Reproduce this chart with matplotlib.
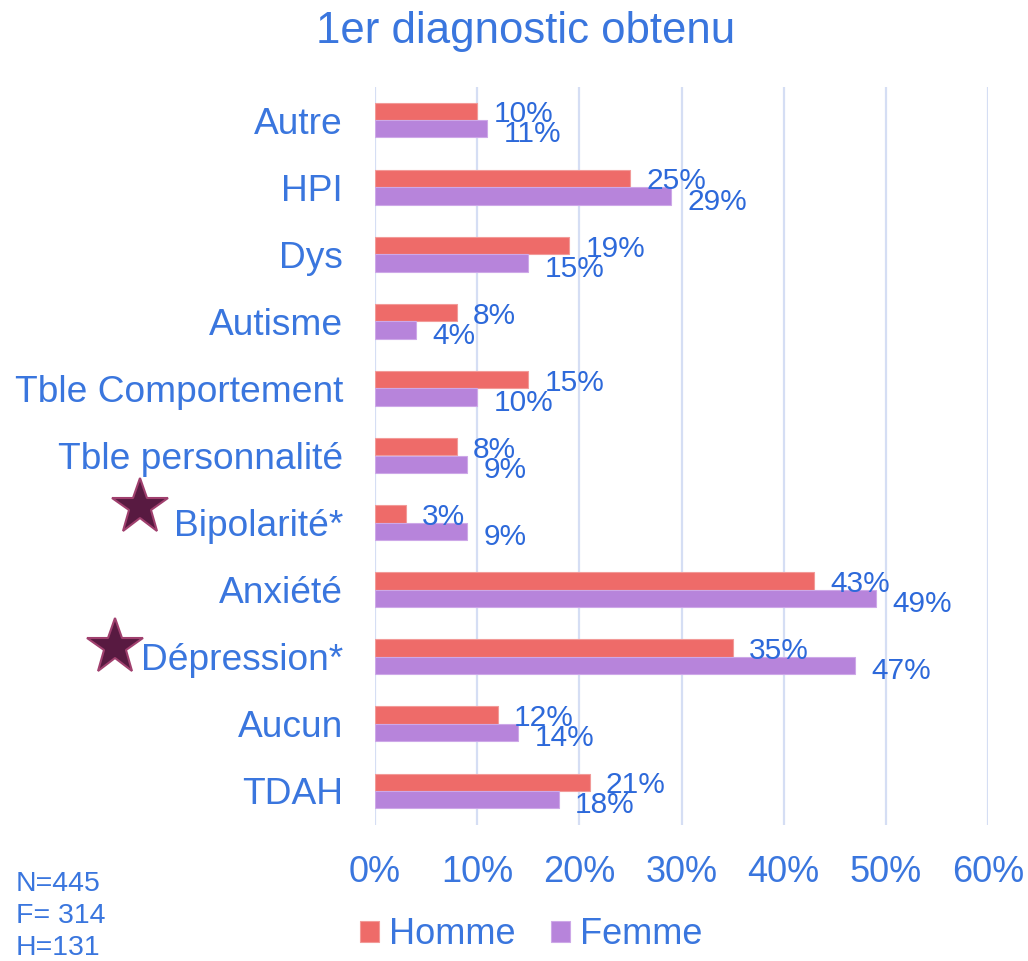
import numpy as np
import matplotlib
matplotlib.use("Agg")
import matplotlib.pyplot as plt

plt.rcParams['font.family'] = ['Liberation Sans', 'DejaVu Sans']

# ======== DATA ========
categories = ["Autre", "HPI", "Dys", "Autisme", "Tble Comportement",
              "Tble personnalité", "Bipolarité*", "Anxiété", "Dépression*",
              "Aucun", "TDAH"]
homme = [10, 25, 19, 8, 15, 8, 3, 43, 35, 12, 21]
femme = [11, 29, 15, 4, 10, 9, 9, 49, 47, 14, 18]
x_ticks = [0, 10, 20, 30, 40, 50, 60]
notes = ["N=445", "F= 314", "H=131"]
# ======================

TXT = '#3A76DE'
LBL = '#2D69DA'
C_H = '#EE6B69'
C_F = '#B784DB'
GRID = '#D5DEF4'
BAR_H = 0.26

fig = plt.figure(figsize=(10.28, 9.61), dpi=100)
ax = fig.add_axes([375/1028, 1 - 824.5/961, 613/1028, 738/961])

y = np.arange(len(categories))
ax.barh(y - BAR_H/2, homme, height=BAR_H, color=C_H, edgecolor='#F29A98', linewidth=0.8, label='Homme', zorder=3)
ax.barh(y + BAR_H/2, femme, height=BAR_H, color=C_F, edgecolor='#CDA8E8', linewidth=0.8, label='Femme', zorder=3)

# data labels just past the end of each bar
for i in range(len(categories)):
    ax.text(homme[i] + 1.6, y[i] - BAR_H/2, f"{homme[i]}%", ha='left', va='center_baseline',
            fontsize=21.5, color=LBL, zorder=4)
    ax.text(femme[i] + 1.6, y[i] + BAR_H/2 + 0.04, f"{femme[i]}%", ha='left', va='center_baseline',
            fontsize=21.5, color=LBL, zorder=4)

ax.set_xlim(0, 60)
ax.set_ylim(len(categories) - 0.5, -0.5)
ax.set_xticks(x_ticks)
ax.set_xticklabels([f"{t}%" for t in x_ticks])
ax.set_yticks(y)
ax.set_yticklabels(categories)
ax.tick_params(axis='x', length=0, pad=22, labelsize=26, labelcolor=TXT)
ax.tick_params(axis='y', length=0, pad=23, labelsize=26.7, labelcolor=TXT)
ax.grid(axis='x', color=GRID, linewidth=1.6, zorder=0)
for s in ax.spines.values():
    s.set_visible(False)

fig.text(526/1028, 1 - 32/961, "1er diagnostic obtenu", ha='center', va='center',
         fontsize=31.5, color=TXT)

# stars next to significant categories
star_pos = [(139.5/1028, 1 - 507/961), (115/1028, 1 - 647/961)]
for sx, sy in star_pos:
    fig.lines.append(plt.Line2D([sx], [sy], marker='*', markersize=42, color='#581A41',
                                markeredgecolor='#A0406E', markeredgewidth=1.5,
                                transform=fig.transFigure))

for k, t in enumerate(notes):
    fig.text(16/1028, 1 - (881 + 32*k)/961, t, ha='left', va='center_baseline', fontsize=20.5, color=TXT)

leg = fig.legend(loc='center', bbox_to_anchor=(531/1028, 1 - 935/961), ncol=2, frameon=False,
                 fontsize=26, handlelength=0.53, handleheight=0.53, handletextpad=0.28,
                 columnspacing=0.97, labelcolor=TXT)

fig.savefig("out.png", dpi=100, facecolor='white')
